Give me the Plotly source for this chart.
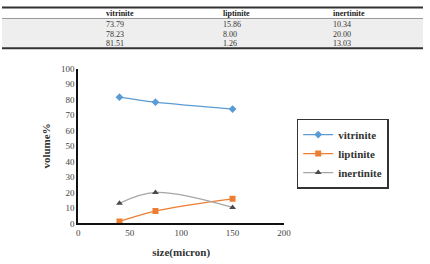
import plotly.graph_objects as go

sizes = [40, 75, 150]
vitrinite = [81.51, 78.23, 73.79]
liptinite = [1.26, 8.00, 15.86]
inertinite = [13.03, 20.00, 10.34]

table_header = ["vitrinite", "liptinite", "inertinite"]
table_columns = [
    ["73.79", "78.23", "81.51"],
    ["15.86", "8.00", "1.26"],
    ["10.34", "20.00", "13.03"],
]

W, H = 430, 264
SERIF = "Liberation Serif, Times New Roman, serif"

def px_x(p):
    return p / W

def px_y(p):
    return 1 - p / H

fig = go.Figure()

series = [
    ("vitrinite", vitrinite, "#5B9BD5", "diamond", "#5B9BD5"),
    ("liptinite", liptinite, "#ED7D31", "square", "#ED7D31"),
    ("inertinite", inertinite, "#A5A5A5", "triangle-up", "#4a4a4a"),
]
for name, vals, lc, sym, mc in series:
    fig.add_trace(go.Scatter(x=sizes, y=vals, name="<b>%s</b>" % name, mode="lines+markers",
                             line=dict(color=lc, width=1.3, shape="spline"),
                             marker=dict(symbol=sym, size=6, color=mc)))

fig.update_layout(
    width=W, height=H,
    margin=dict(l=0, r=0, t=0, b=0),
    paper_bgcolor="white", plot_bgcolor="white",
    xaxis=dict(domain=[px_x(78), px_x(288)], range=[0, 200], tickvals=[0, 50, 100, 150, 200],
               showgrid=False, zeroline=False, showline=True, linecolor="#111", linewidth=1.5,
               ticks="", tickfont=dict(family=SERIF, size=9, color="#444"),
               title=dict(text="<b>size(micron)</b>", font=dict(family=SERIF, size=11, color="#333"),
                          standoff=11)),
    yaxis=dict(domain=[px_y(227), px_y(66)], range=[0, 100], tickvals=list(range(0, 101, 10)),
               showgrid=False, zeroline=False, showline=True, linecolor="#111", linewidth=2,
               ticks="", tickfont=dict(family=SERIF, size=9, color="#444"),
               title=dict(text="<b>volume%</b>", font=dict(family=SERIF, size=11, color="#333"),
                          standoff=8)),
    legend=dict(x=px_x(301), y=px_y(118), xanchor="left", yanchor="top",
                bordercolor="#333", borderwidth=1.5, bgcolor="white",
                font=dict(family=SERIF, size=11, color="#333"),
                tracegroupgap=2, itemwidth=30),
    showlegend=True,
)

# table background and rules
fig.add_shape(type="rect", xref="paper", yref="paper", x0=0, x1=1, y0=px_y(45), y1=px_y(14),
              fillcolor="#eeeeee", line=dict(width=0), layer="below")
fig.add_shape(type="line", xref="paper", yref="paper", x0=0, x1=1, y0=px_y(2.5), y1=px_y(2.5),
              line=dict(color="#333", width=2))
fig.add_shape(type="line", xref="paper", yref="paper", x0=0, x1=1, y0=px_y(14), y1=px_y(14),
              line=dict(color="#999", width=1))
fig.add_shape(type="line", xref="paper", yref="paper", x0=0, x1=1, y0=px_y(45), y1=px_y(45),
              line=dict(color="#333", width=2))

col_x = [105, 225, 337]
row_y = [20.5, 30.5, 40.5]
for cx, head, col in zip(col_x, table_header, table_columns):
    fig.add_annotation(x=px_x(cx), y=px_y(8.5), xref="paper", yref="paper", text="<b>%s</b>" % head,
                       showarrow=False, xanchor="left", yanchor="middle", borderpad=0,
                       font=dict(family=SERIF, size=8, color="#222"))
    for ry, v in zip(row_y, col):
        fig.add_annotation(x=px_x(cx), y=px_y(ry), xref="paper", yref="paper", text=v,
                           showarrow=False, xanchor="left", yanchor="middle", borderpad=0,
                           font=dict(family=SERIF, size=8, color="#333"))

fig.write_html("out.html")
